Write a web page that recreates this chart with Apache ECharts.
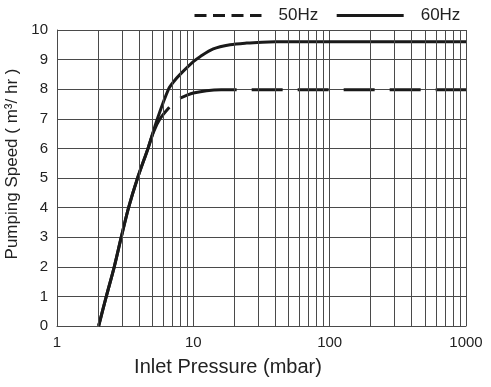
<!DOCTYPE html>
<html><head><meta charset="utf-8">
<script src="https://cdn.jsdelivr.net/npm/echarts@6/dist/echarts.min.js"></script>
<style>html,body{margin:0;padding:0;background:#fff}#c{width:491px;height:387px}</style>
</head><body><div id="c"></div>
<script>
// 60 Hz curve
const pressure60 = [2.02, 2.3, 2.63, 2.96, 3.35, 3.9, 4.65, 5.45, 6.58, 7.22, 8,   10,   11.2, 14,   18.6, 24.6, 32,   40,  1000];
const speed60    = [0,    1,   2,    3,    4,    5,   6,    7,    8,    8.27, 8.5, 8.93, 9.1,  9.36, 9.5,  9.56, 9.59, 9.6, 9.6];
// 50 Hz curve, drawn in three pieces like the reference
const pressure50a = [2.02, 2.3, 2.63, 2.96, 3.35, 3.9, 4.65, 5.1, 5.7, 6.67];
const speed50a    = [0,    1,   2,    3,    4,    5,   6,    6.55, 7,  7.39];
const pressure50b = [8,   9,   10,   12.5, 16,   20.2];
const speed50b    = [7.7, 7.8, 7.87, 7.95, 7.98, 7.98];
const pressure50c = [20.2, 1000];
const speed50c    = [7.98, 7.98];
// minor vertical grid lines on the log axis
const minorGridX = [2,3,4,5,6,7,8,9,20,30,40,50,60,70,80,90,200,300,400,500,600,700,800,900];

const zip = (a, b) => a.map((v, i) => [v, b[i]]);
const FONT = 'Liberation Sans, Arial, sans-serif';
const INK = '#1a1a1a';
const GRID = '#4a4a4a';

const chart = echarts.init(document.getElementById('c'), null, {renderer: 'canvas'});
chart.setOption({
  animation: false,
  backgroundColor: '#fff',
  color: [INK],
  grid: {left: 57, right: 25, top: 30, bottom: 61, containLabel: false, outerBoundsMode: 'none'},
  legend: {
    top: 7, left: 193, padding: 0, itemWidth: 67, itemHeight: 16, itemGap: 17,
    selectedMode: false,
    itemStyle: {opacity: 0},
    textStyle: {fontSize: 17, color: '#222', fontFamily: FONT, padding: [0, 0, 0, 12]},
    data: [
      {name: '50Hz', lineStyle: {type: [12, 6.5], dashOffset: 0, width: 3, color: INK}},
      {name: '60Hz', lineStyle: {width: 3, color: INK}}
    ]
  },
  xAxis: {
    type: 'log', logBase: 10, min: 1, max: 1000,
    name: 'Inlet Pressure (mbar)', nameLocation: 'middle', nameGap: 31,
    nameTextStyle: {fontSize: 20, color: '#222', fontFamily: FONT, padding: [0, 67, 0, 0]},
    axisLine: {show: true, lineStyle: {color: GRID, width: 1}},
    axisTick: {show: false},
    axisLabel: {fontSize: 15, color: '#222', fontFamily: FONT, margin: 9, formatter: v => String(v)},
    splitLine: {show: true, lineStyle: {color: GRID, width: 1}},
    minorTick: {show: false}, minorSplitLine: {show: false}
  },
  yAxis: {
    type: 'value', min: 0, max: 10, interval: 1,
    name: 'Pumping Speed ( m³/ hr )', nameLocation: 'middle', nameGap: 28,
    nameTextStyle: {fontSize: 17, color: '#222', fontFamily: FONT, padding: [0, 0, 0, 28]},
    axisLine: {show: true, lineStyle: {color: GRID, width: 1}},
    axisTick: {show: false},
    axisLabel: {fontSize: 15, color: '#222', fontFamily: FONT, margin: 9},
    splitLine: {show: true, lineStyle: {color: GRID, width: 1}}
  },
  series: [
    {
      name: 'grid', type: 'line', data: [[1, 0]], symbol: 'none', silent: true, z: 1,
      lineStyle: {opacity: 0},
      markLine: {
        silent: true, symbol: 'none', animation: false,
        label: {show: false},
        lineStyle: {color: GRID, width: 1, type: 'solid'},
        data: minorGridX.map(v => ({xAxis: v}))
      }
    },
    {
      name: '50Hz-a', type: 'line', data: zip(pressure50a, speed50a), symbol: 'none', smooth: 0.3, z: 3,
      lineStyle: {color: INK, width: 3}, emphasis: {disabled: true}
    },
    {
      name: '50Hz-b', type: 'line', data: zip(pressure50b, speed50b), symbol: 'none', smooth: 0.3, z: 3,
      lineStyle: {color: INK, width: 3}, emphasis: {disabled: true}
    },
    {
      name: '50Hz', type: 'line', data: zip(pressure50c, speed50c), symbol: 'none', z: 3,
      itemStyle: {color: INK},
      lineStyle: {color: INK, width: 3, type: [31, 15], dashOffset: 29.3}, emphasis: {disabled: true}
    },
    {
      name: '60Hz', type: 'line', data: zip(pressure60, speed60), symbol: 'none', smooth: 0.3, z: 3,
      itemStyle: {color: INK},
      lineStyle: {color: INK, width: 3}, emphasis: {disabled: true}
    }
  ]
});
</script>
</body></html>
